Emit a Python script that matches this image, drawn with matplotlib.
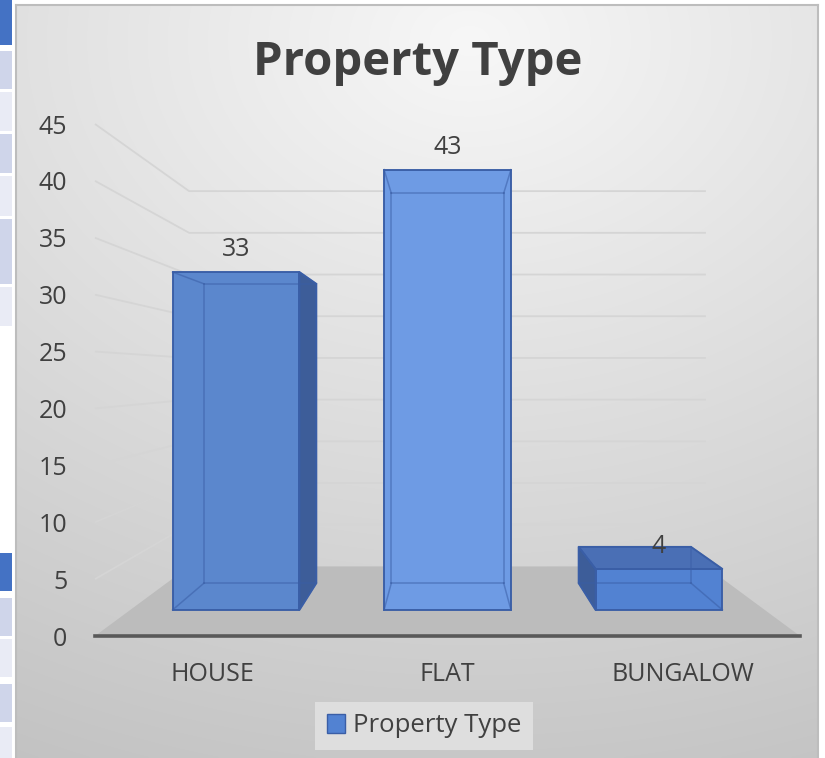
import numpy as np
import matplotlib
matplotlib.use("Agg")
import matplotlib.pyplot as plt
from matplotlib.patches import Polygon, Rectangle, Patch

# ---- data ----
categories = ["HOUSE", "FLAT", "BUNGALOW"]
counts = [33, 43, 4]
series_name = "Property Type"
y_ticks = list(range(0, 50, 5))

# ---- figure ----
W, H = 825, 758
plt.rcParams['font.family'] = ['Open Sans', 'DejaVu Sans']
fig = plt.figure(figsize=(W / 100, H / 100), dpi=100)
fig.patch.set_facecolor('white')


def fx(px):
    return px / W


def fy(py):
    return 1 - py / H


# spreadsheet cells peeking in at the left edge
cell_rows = [(0, 45, '#4472c4'), (51, 89, '#cfd5ea'), (92, 131, '#e9ebf5'),
             (134, 173, '#cfd5ea'), (176, 216, '#e9ebf5'), (219, 284, '#cfd5ea'),
             (287, 326, '#e9ebf5'),
             (553, 591, '#4472c4'), (598, 636, '#cfd5ea'), (639, 677, '#e9ebf5'),
             (684, 722, '#cfd5ea'), (727, 758, '#e9ebf5')]
for y0, y1, c in cell_rows:
    fig.patches.append(Rectangle((0, fy(y1)), fx(12), (y1 - y0) / H,
                                 transform=fig.transFigure, facecolor=c,
                                 edgecolor='none', zorder=0))

# chart area with soft gradient fill
bx0, by0, bx1, by1 = 16, 5, 818, 758
bg = fig.add_axes([fx(bx0), fy(by1), fx(bx1) - fx(bx0), fy(by0) - fy(by1)])
gx, gy = np.meshgrid(np.linspace(bx0, bx1, 300), np.linspace(by0, by1, 300))
dist = np.hypot((gx - 470) * 0.75, (gy - 40) * 1.0)
shade = np.clip(247 - 0.066 * dist, 0, 255) / 255.0
bg.imshow(np.dstack([shade, shade, shade]), extent=(0, 1, 0, 1),
          origin='upper', aspect='auto', interpolation='bilinear')
bg.set_xlim(0, 1)
bg.set_ylim(0, 1)
bg.set_xticks([])
bg.set_yticks([])
for side, sp in bg.spines.items():
    sp.set_visible(side in ('left', 'top', 'right'))
    sp.set_color('#bdbdbd')
    sp.set_linewidth(1.5)

# ---- plotting axes (front plane of the 3-D box) ----
ax = fig.add_axes([fx(95), fy(636), fx(800) - fx(95), fy(124) - fy(636)])
ax.set_xlim(0, len(categories))
ax.set_ylim(0, 45)
ax.patch.set_visible(False)
for sp in ax.spines.values():
    sp.set_visible(False)

VP = (len(categories) / 2, 22.9)   # vanishing point on the front plane
S_WALL = 0.733                     # perspective scale of the back wall
S_FRONT, S_BACK = 0.90, 0.797      # perspective scale of bar front / back
BAR_W = 0.6


def proj(x, y, s):
    return (VP[0] + (x - VP[0]) * s, VP[1] + (y - VP[1]) * s)


n = len(categories)
# floor
floor = [proj(0, 0, 1), proj(n, 0, 1), proj(n, 0, S_WALL), proj(0, 0, S_WALL)]
ax.add_patch(Polygon(floor, closed=True, facecolor='#bcbcbc', edgecolor='none',
                     clip_on=False, zorder=1))
# gridlines on the side and back walls
for v in y_ticks[1:]:
    pts = np.array([proj(0, v, 1), proj(0, v, S_WALL), proj(n, v, S_WALL)])
    ax.plot(pts[:, 0], pts[:, 1], color='#d5d5d5', lw=1.3, clip_on=False,
            zorder=1, solid_capstyle='butt')
# front base line
ax.plot([0, n], [0, 0], color='#595959', lw=2.6, clip_on=False, zorder=6)

front_cols = ['#5b87cd', '#6e9be4', '#5282d2']
side_col = '#3d5d99'
top_col = '#4a6fb5'
edge_col = '#3a5ea6'

for i, v in enumerate(counts):
    x0 = i + 0.5 - BAR_W / 2
    x1 = i + 0.5 + BAR_W / 2
    corners = {}
    for key, s in (('f', S_FRONT), ('b', S_BACK)):
        corners[key] = [proj(x0, 0, s), proj(x1, 0, s), proj(x1, v, s), proj(x0, v, s)]
    F, B = corners['f'], corners['b']
    front = F
    left = [F[0], B[0], B[3], F[3]]
    right = [F[1], B[1], B[2], F[2]]
    top = [F[3], F[2], B[2], B[3]]

    visible = []
    if x0 > VP[0]:
        visible.append((left, side_col))
    if x1 < VP[0]:
        visible.append((right, side_col))
    if v < VP[1]:
        visible.append((top, top_col))
    visible.append((front, front_cols[i]))

    for poly, col in visible:
        ax.add_patch(Polygon(poly, closed=True, facecolor=col, edgecolor='none',
                             clip_on=False, zorder=3))
    # all twelve edges, faint, so the box reads as translucent
    edges = [(F[k], F[(k + 1) % 4]) for k in range(4)] + \
            [(B[k], B[(k + 1) % 4]) for k in range(4)] + \
            [(F[k], B[k]) for k in range(4)]
    for a, b in edges:
        ax.plot([a[0], b[0]], [a[1], b[1]], color=edge_col, lw=1.1, alpha=0.55,
                clip_on=False, zorder=4)
    for poly, col in visible:
        ax.add_patch(Polygon(poly, closed=True, facecolor='none', edgecolor=edge_col,
                             lw=1.3, clip_on=False, zorder=5))

    ax.annotate(str(v), xy=proj(i + 0.5, v, S_FRONT), xytext=(0, 11.5),
                textcoords='offset points', ha='center', va='baseline',
                fontsize=18, color='#404040', zorder=7)

# axes ticks
ax.set_yticks(y_ticks)
ax.set_yticklabels([str(t) for t in y_ticks])
ax.set_xticks([i + 0.5 for i in range(n)])
ax.set_xticklabels(categories)
ax.tick_params(axis='y', length=0, pad=20, labelsize=18, labelcolor='#404040')
ax.tick_params(axis='x', length=0, pad=19, labelsize=18, labelcolor='#404040')

# title
fig.text(fx(417.5), fy(75), series_name, ha='center', va='baseline',
         fontsize=34, fontweight='bold', color='#404040')

# legend
handles = [Patch(facecolor='#5282d2', edgecolor=edge_col, label=series_name)]
fig.legend(handles=handles, loc='center', bbox_to_anchor=(fx(424), fy(726)),
           frameon=True, facecolor='#dedede', edgecolor='none', fancybox=False,
           framealpha=1, fontsize=18.5, labelcolor='#404040', handlelength=0.72,
           handleheight=0.72, handletextpad=0.3, borderpad=0.45)

fig.savefig('out.png', dpi=100)
